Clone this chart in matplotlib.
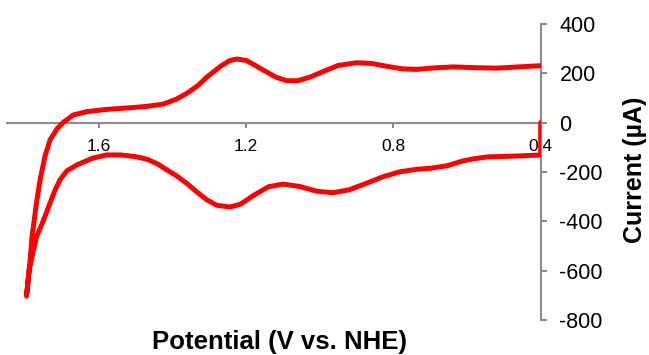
import matplotlib
matplotlib.use("Agg")
import matplotlib.pyplot as plt

plt.rcParams["font.family"] = ["Liberation Sans", "DejaVu Sans"]
plt.rcParams["axes.unicode_minus"] = False

# cyclic voltammogram in scan order: out from 0.4 V to 1.8 V, then back to 0.4 V
potential = [
    0.400, 0.400, 0.460, 0.546, 0.580, 0.611, 0.655, 0.700, 0.736, 0.782,
    0.828, 0.872, 0.920, 0.964, 1.008, 1.054, 1.100, 1.140, 1.180, 1.215,
    1.244, 1.280, 1.307, 1.335, 1.360, 1.390, 1.415, 1.440, 1.470, 1.500,
    1.540, 1.580, 1.617, 1.660, 1.687, 1.706, 1.720, 1.733, 1.750, 1.770,
    1.790, 1.797,
    1.789, 1.782, 1.770, 1.760, 1.747, 1.733, 1.714, 1.698, 1.670, 1.632,
    1.578, 1.540, 1.510, 1.470, 1.426, 1.390, 1.360, 1.330, 1.306, 1.270,
    1.245, 1.225, 1.200, 1.180, 1.150, 1.120, 1.090, 1.060, 1.026, 0.990,
    0.950, 0.900, 0.860, 0.816, 0.776, 0.736, 0.690, 0.638, 0.580, 0.519,
    0.460, 0.400,
]
current = [
    0, -131, -135, -139, -146, -155, -175, -185, -189, -199,
    -219, -245, -272, -284, -278, -259, -249, -260, -295, -330,
    -342, -335, -313, -280, -248, -215, -192, -168, -148, -138,
    -131, -131, -144, -171, -195, -232, -275, -326, -393, -463,
    -597, -703,
    -590, -463, -326, -232, -138, -70, -25, 0, 31, 45,
    54, 58, 61, 66, 75, 95, 120, 152, 186, 228,
    252, 258, 252, 236, 210, 185, 170, 170, 185, 208,
    232, 243, 240, 228, 218, 216, 222, 226, 223, 221,
    226, 231,
]

x_ticks = [1.6, 1.2, 0.8, 0.4]
x_labels = ["1.6", "1.2", "0.8", "0.4"]
y_ticks = [-800, -600, -400, -200, 0, 200, 400]

fig = plt.figure(figsize=(6.49, 3.55), dpi=100)
ax = fig.add_axes([0.0108, 0.0986, 0.8223, 0.8338])

ax.plot(potential, current, color="#ff0000", lw=3.6,
        solid_joinstyle="round", solid_capstyle="round", zorder=3)

ax.set_xlim(1.85, 0.4)
ax.set_ylim(-800, 400)

grey = "#8c8c8c"
ax.spines["left"].set_visible(False)
ax.spines["top"].set_visible(False)
ax.spines["bottom"].set_position(("data", 0))
for side in ("bottom", "right"):
    ax.spines[side].set_color(grey)
    ax.spines[side].set_linewidth(1.5)

ax.set_xticks(x_ticks)
ax.set_xticklabels(x_labels)
ax.set_yticks(y_ticks)
ax.yaxis.tick_right()
ax.tick_params(axis="x", direction="out", length=3.6, width=1.5, color=grey,
               labelsize=12.5, pad=8)
ax.tick_params(axis="y", direction="out", length=4.5, width=1.5, color=grey,
               labelsize=15.5, pad=9)

fig.text(280 / 649, 1 - 342 / 355, "Potential (V vs. NHE)", ha="center",
         va="center", fontsize=18.5, fontweight="bold")
fig.text(635 / 649, 1 - 170 / 355, "Current (\u00b5A)", ha="center",
         va="center", rotation=90, fontsize=18, fontweight="bold")

fig.savefig("out.png", dpi=100)
